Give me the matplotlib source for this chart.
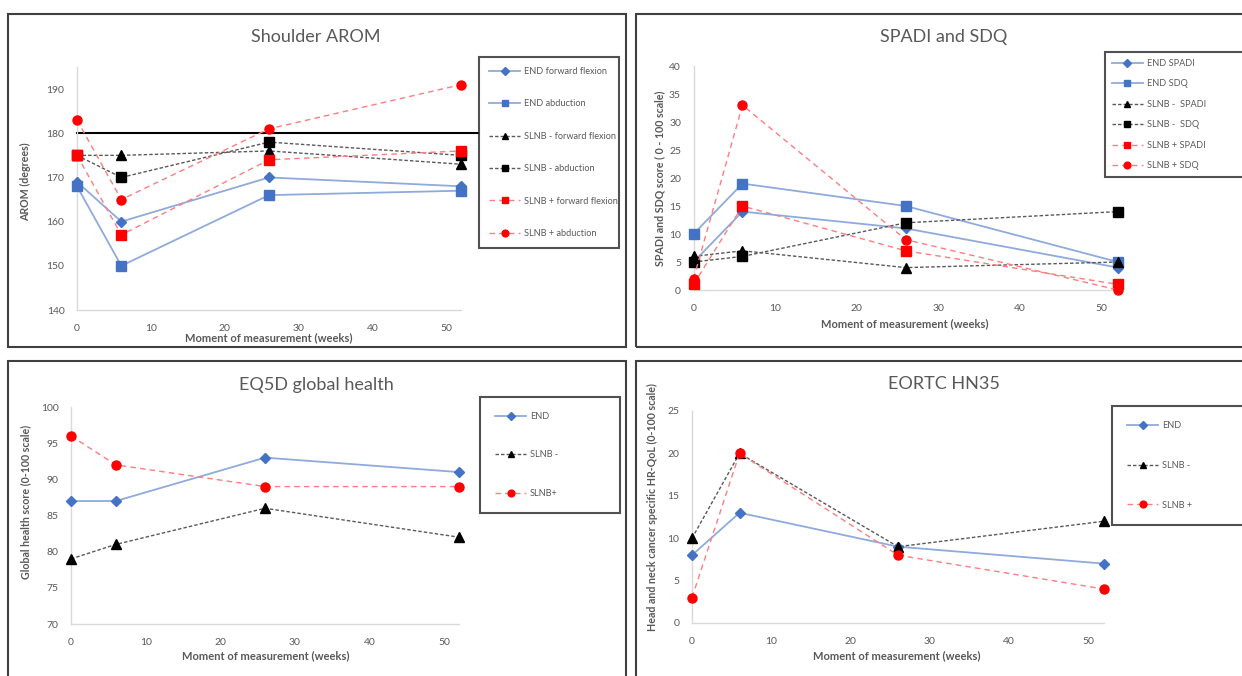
import matplotlib
matplotlib.use("Agg")
import matplotlib.pyplot as plt
from matplotlib.patches import Rectangle

plt.rcParams['font.family'] = ['Lato', 'DejaVu Sans']

# ---------------- data ----------------
weeks = [0, 6, 26, 52]

# Shoulder AROM
arom_labels = ["END forward flexion", "END abduction", "SLNB - forward flexion",
               "SLNB - abduction", "SLNB + forward flexion", "SLNB + abduction"]
arom_end_ff = [169, 160, 170, 168]
arom_end_abd = [168, 150, 166, 167]
arom_neg_ff = [175, 175, 176, 173]
arom_neg_abd = [175, 170, 178, 175]
arom_pos_ff = [175, 157, 174, 176]
arom_pos_abd = [183, 165, 181, 191]
arom_ref = 180

# SPADI and SDQ
spadi_labels = ["END SPADI", "END SDQ", "SLNB -  SPADI", "SLNB -  SDQ",
                "SLNB + SPADI", "SLNB + SDQ"]
end_spadi = [5, 14, 11, 4]
end_sdq = [10, 19, 15, 5]
neg_spadi = [6, 7, 4, 5]
neg_sdq = [5, 6, 12, 14]
pos_spadi = [1, 15, 7, 1]
pos_sdq = [2, 33, 9, 0]

# EQ5D global health
eq_labels = ["END", "SLNB -", "SLNB+"]
eq_end = [87, 87, 93, 91]
eq_neg = [79, 81, 86, 82]
eq_pos = [96, 92, 89, 89]

# EORTC HN35
hn_labels = ["END", "SLNB -", "SLNB +"]
hn_end = [8, 13, 9, 7]
hn_neg = [10, 20, 9, 12]
hn_pos = [3, 20, 8, 4]

# ---------------- styles ----------------
BLUE_L = '#8FAADC'
BLUE_M = '#4472C4'
GREY_L = '#595959'
RED_L = '#FF7C80'
RED_M = '#FF0000'
TXT = '#595959'

STY = {
    'blue_D': dict(color=BLUE_L, lw=1.3, marker='D', ms=5.5, mfc=BLUE_M, mec=BLUE_M),
    'blue_s': dict(color=BLUE_L, lw=1.3, marker='s', ms=6.5, mfc=BLUE_M, mec=BLUE_M),
    'blk_^': dict(color=GREY_L, lw=1.0, ls=(0, (2.5, 1.5)), marker='^', ms=6.5, mfc='black', mec='black'),
    'blk_s': dict(color=GREY_L, lw=1.0, ls=(0, (2.5, 1.5)), marker='s', ms=6.5, mfc='black', mec='black'),
    'red_s': dict(color=RED_L, lw=1.0, ls=(0, (4, 3)), marker='s', ms=6.5, mfc=RED_M, mec=RED_M),
    'red_o': dict(color=RED_L, lw=1.0, ls=(0, (4, 3)), marker='o', ms=6.5, mfc=RED_M, mec=RED_M),
}

W, H = 1242, 676
fig = plt.figure(figsize=(W / 100, H / 100), dpi=100)


def fx(px):
    return px / W


def fy(py):
    return 1 - py / H


def axes_px(l, t, r, b):
    return fig.add_axes([fx(l), fy(b), (r - l) / W, (b - t) / H])


def frame_px(l, t, r, b):
    fig.add_artist(Rectangle((fx(l), fy(b)), (r - l) / W, (b - t) / H,
                             transform=fig.transFigure, fill=False,
                             edgecolor='#404040', lw=1.5, zorder=0))


def style_axes(ax, ylim, yticks):
    ax.set_xlim(0, 52)
    ax.set_ylim(*ylim)
    ax.set_xticks([0, 10, 20, 30, 40, 50])
    ax.set_yticks(yticks)
    for s in ['top', 'right']:
        ax.spines[s].set_visible(False)
    for s in ['left', 'bottom']:
        ax.spines[s].set_color('#D9D9D9')
        ax.spines[s].set_linewidth(1.0)
    ax.tick_params(length=0, labelsize=7.5, labelcolor=TXT)
    ax.tick_params(axis='x', pad=10)
    ax.tick_params(axis='y', pad=9)
    ax.patch.set_alpha(0)


def texts(title, tc, xlabel, xc, ylabel, yc):
    fig.text(fx(tc[0]), fy(tc[1]), title, ha='center', va='center',
             fontsize=13, color=TXT)
    fig.text(fx(xc[0]), fy(xc[1]), xlabel, ha='center', va='center',
             fontsize=8, color=TXT, fontweight='bold')
    fig.text(fx(yc[0]), fy(yc[1]), ylabel, ha='center', va='center',
             fontsize=7.7, color=TXT, fontweight='bold', rotation=90)


def legend_px(ax, l, t, r, spacing, bpad, fs=6.6):
    leg = ax.legend(loc='upper left', bbox_to_anchor=(fx(l), fy(t), (r - l) / W, 0.0),
                    bbox_transform=fig.transFigure, mode='expand', borderaxespad=0,
                    fontsize=fs, labelcolor=TXT, labelspacing=spacing,
                    handlelength=3.4, handletextpad=0.4, markerscale=0.75,
                    numpoints=1, fancybox=False, borderpad=bpad, frameon=True)
    leg.get_frame().set_edgecolor('#262626')
    leg.get_frame().set_linewidth(1.5)
    return leg


def plot_series(ax, ys, keys, labels):
    for y, k, lab in zip(ys, keys, labels):
        ax.plot(weeks, y, label=lab, clip_on=False, zorder=3, **STY[k])


# ---------------- panel frames ----------------
frame_px(8, 14, 626, 347)
frame_px(636, 14, 1250, 347)
frame_px(8, 361, 626, 690)
frame_px(636, 361, 1250, 690)

# ---------------- Shoulder AROM ----------------
ax1 = axes_px(77, 67, 461, 310)
style_axes(ax1, (140, 195), [140, 150, 160, 170, 180, 190])
ax1.axhline(arom_ref, xmin=0, xmax=(479 - 77) / (461 - 77), color='black', lw=1.5,
            clip_on=False, zorder=1)
plot_series(ax1, [arom_end_ff, arom_end_abd, arom_neg_ff, arom_neg_abd, arom_pos_ff, arom_pos_abd],
            ['blue_D', 'blue_s', 'blk_^', 'blk_s', 'red_s', 'red_o'], arom_labels)
legend_px(ax1, 479, 57, 619, 2.55, 1.1)
texts("Shoulder AROM", (316, 37), "Moment of measurement (weeks)", (269, 338),
      "AROM (degrees)", (26, 182))

# ---------------- SPADI and SDQ ----------------
ax2 = axes_px(693.5, 66, 1118, 290)
style_axes(ax2, (0, 40), [0, 5, 10, 15, 20, 25, 30, 35, 40])
plot_series(ax2, [end_spadi, end_sdq, neg_spadi, neg_sdq, pos_spadi, pos_sdq],
            ['blue_D', 'blue_s', 'blk_^', 'blk_s', 'red_s', 'red_o'], spadi_labels)
legend_px(ax2, 1105, 52, 1262, 1.25, 0.75)
texts("SPADI and SDQ", (944, 37), "Moment of measurement (weeks)", (905, 324),
      "SPADI and SDQ score ( 0 - 100 scale)", (660, 178))

# ---------------- EQ5D ----------------
ax3 = axes_px(71, 407, 459, 624)
style_axes(ax3, (70, 100), [70, 75, 80, 85, 90, 95, 100])
plot_series(ax3, [eq_end, eq_neg, eq_pos], ['blue_D', 'blk_^', 'red_o'], eq_labels)
legend_px(ax3, 480, 397, 620, 3.2, 1.65)
texts("EQ5D global health", (316, 385), "Moment of measurement (weeks)", (266, 656),
      "Global health score (0-100 scale)", (26, 502))

# ---------------- EORTC HN35 ----------------
ax4 = axes_px(692, 411, 1104, 623)
style_axes(ax4, (0, 25), [0, 5, 10, 15, 20, 25])
plot_series(ax4, [hn_end, hn_neg, hn_pos], ['blue_D', 'blk_^', 'red_o'], hn_labels)
legend_px(ax4, 1112, 406, 1262, 3.35, 1.65)
texts("EORTC HN35", (944, 384), "Moment of measurement (weeks)", (897, 656),
      "Head and neck cancer specific HR-QoL (0-100 scale)", (652, 507))

fig.savefig('out.png', dpi=100)
